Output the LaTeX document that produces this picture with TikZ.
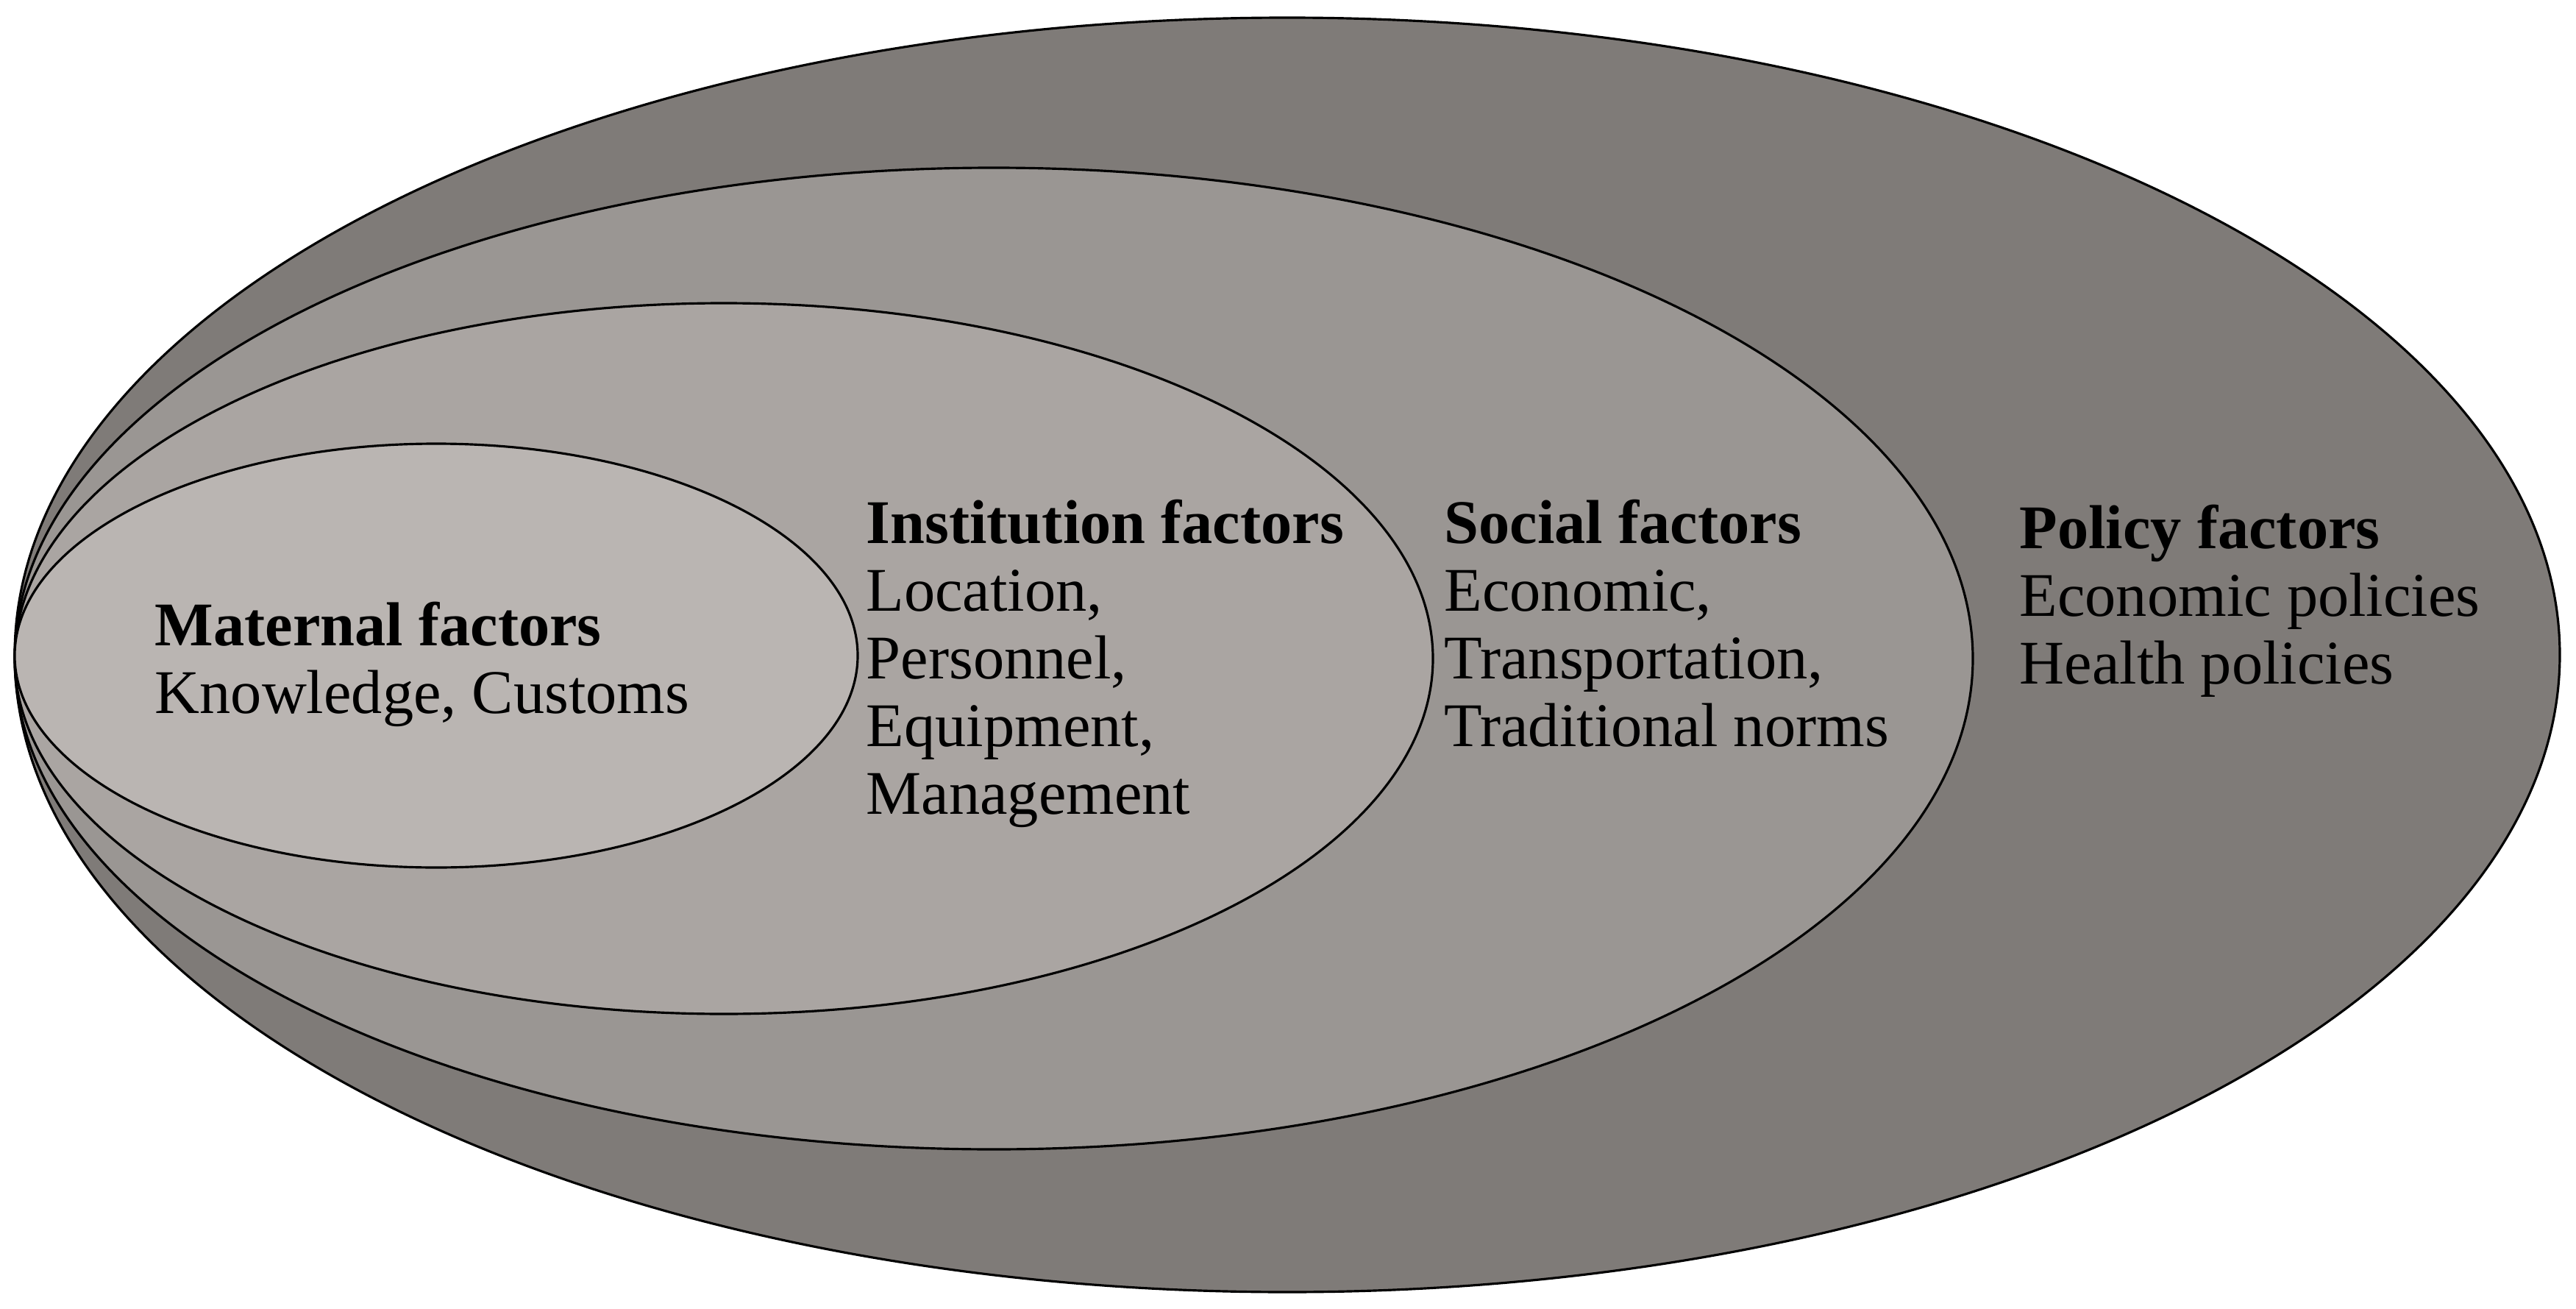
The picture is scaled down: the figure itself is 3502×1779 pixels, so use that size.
\documentclass[tikz,border=0pt]{standalone}
\usepackage{fontspec}
\setmainfont{Liberation Serif}

\definecolor{policygray}{HTML}{7F7B78}
\definecolor{socialgray}{HTML}{9A9693}
\definecolor{institutiongray}{HTML}{AAA5A2}
\definecolor{maternalgray}{HTML}{BAB5B2}

\tikzset{
  ring/.style={draw=black, line width=0.9pt},
  factors/.style={anchor=base west, inner sep=0pt, font=\fontsize{24}{26.2}\selectfont}
}

\newcommand{\factorlist}[2]{\begin{tabular}[t]{@{}l@{}}\textbf{#1}\\#2\end{tabular}}

\begin{document}
\begin{tikzpicture}[x=0.01cm, y=-0.01cm]
    \useasboundingbox (0,0) rectangle (3502,1779);

    % Ellipses, outer to inner
    \draw[ring, fill=policygray] (1750,890) ellipse [x radius=1730, y radius=866];
    \draw[ring, fill=socialgray] (1351,895) ellipse [x radius=1331, y radius=667];
    \draw[ring, fill=institutiongray] (984,895) ellipse [x radius=964, y radius=483];
    \draw[ring, fill=maternalgray] (593,891) ellipse [x radius=573, y radius=288];

    % Labels
    \node[factors] (maternal) at (210,877) {\factorlist{Maternal factors}{Knowledge, Customs}};
    \node[factors] (institution) at (1177,738) {\factorlist{Institution factors}{Location,\\Personnel,\\Equipment,\\Management}};
    \node[factors] (social) at (1963,738) {\factorlist{Social factors}{Economic,\\Transportation,\\Traditional norms}};
    \node[factors] (policy) at (2745,745) {\factorlist{Policy factors}{Economic policies\\Health policies}};
\end{tikzpicture}
\end{document}
